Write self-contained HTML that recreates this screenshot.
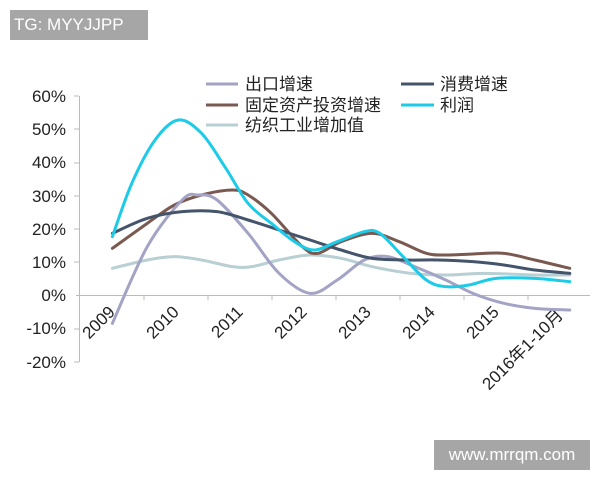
<!DOCTYPE html>
<html><head><meta charset="utf-8"><style>
body{margin:0;background:#fff;width:600px;height:480px;overflow:hidden;font-family:"Liberation Sans","Noto Sans CJK SC",sans-serif}
.wm{position:absolute;background:#a6a6a6;color:#fff;font-size:17px}
</style></head><body>
<svg id="s" width="600" height="480" style="position:absolute;left:0;top:0">
<g font-size="17" fill="#222" text-anchor="end" font-family="Liberation Sans,sans-serif">
<text x="66" y="102">60%</text><text x="66" y="135">50%</text><text x="66" y="168">40%</text>
<text x="66" y="202">30%</text><text x="66" y="235">20%</text><text x="66" y="268">10%</text>
<text x="66" y="301">0%</text><text x="66" y="334">-10%</text><text x="66" y="368">-20%</text>
</g>
<line x1="79.5" y1="96" x2="79.5" y2="362" stroke="#bbb"/>
<g stroke="#bbb"><line x1="74" y1="96" x2="79" y2="96"/><line x1="74" y1="129" x2="79" y2="129"/><line x1="74" y1="163" x2="79" y2="163"/><line x1="74" y1="196" x2="79" y2="196"/><line x1="74" y1="229" x2="79" y2="229"/><line x1="74" y1="262" x2="79" y2="262"/><line x1="74" y1="329" x2="79" y2="329"/><line x1="74" y1="362" x2="79" y2="362"/>
<line x1="76" y1="295.5" x2="590" y2="295.5"/>
<line x1="144" y1="295" x2="144" y2="300"/><line x1="208" y1="295" x2="208" y2="300"/><line x1="272" y1="295" x2="272" y2="300"/><line x1="336" y1="295" x2="336" y2="300"/><line x1="400" y1="295" x2="400" y2="300"/><line x1="464" y1="295" x2="464" y2="300"/><line x1="528" y1="295" x2="528" y2="300"/></g>
<g font-size="17" fill="#222" text-anchor="end" font-family="Liberation Sans,Noto Sans CJK SC,sans-serif">
<text transform="translate(116,313) rotate(-45)">2009</text>
<text transform="translate(180,313) rotate(-45)">2010</text>
<text transform="translate(244,313) rotate(-45)">2011</text>
<text transform="translate(308,313) rotate(-45)">2012</text>
<text transform="translate(372,313) rotate(-45)">2013</text>
<text transform="translate(436,313) rotate(-45)">2014</text>
<text transform="translate(500,313) rotate(-45)">2015</text>
<text transform="translate(564,316) rotate(-45)">2016年1-10月</text>
</g>
<g id="lines" fill="none" stroke-width="3" stroke-linecap="round"></g>
<g stroke-width="3">
<line x1="206" y1="84" x2="238" y2="84" stroke="#a3a3c6"/>
<line x1="401" y1="84" x2="434" y2="84" stroke="#44546a"/>
<line x1="206" y1="105" x2="238" y2="105" stroke="#7a5a50"/>
<line x1="401" y1="105" x2="434" y2="105" stroke="#1ccbe8"/>
<line x1="206" y1="125" x2="238" y2="125" stroke="#b8cfd3"/>
</g>
<g font-size="17" fill="#222" font-family="Noto Sans CJK SC,sans-serif">
<text x="245" y="90">出口增速</text><text x="440" y="90">消费增速</text>
<text x="245" y="111">固定资产投资增速</text><text x="440" y="111">利润</text>
<text x="245" y="131">纺织工业增加值</text>
</g>
</svg>
<div class="wm" style="left:10px;top:10px;width:138px;height:30px;line-height:30px;padding-left:4px;box-sizing:border-box">TG: MYYJJPP</div>
<div class="wm" style="left:434px;top:440px;width:156px;height:30px;line-height:30px;text-align:center">www.mrrqm.com</div>
<script>
var S=[
["#b8cfd3",[[290,625],[380,600],[450,590],[520,600],[600,620],[650,620],[720,600],[800,585],[880,595],[960,620],[1060,640],[1150,645],[1250,640],[1380,645],[1470,645]]],
["#7a5a50",[[290,565],[380,490],[450,435],[520,405],[600,390],[640,405],[700,460],[780,560],[820,580],[880,545],[960,520],[1030,545],[1100,580],[1150,585],[1220,582],[1300,580],[1380,600],[1470,625]]],
["#a3a3c6",[[290,790],[380,560],[470,420],[510,405],[560,420],[640,520],[720,640],[800,700],[870,660],[940,600],[1000,590],[1070,620],[1150,660],[1220,700],[1300,730],[1380,745],[1470,750]]],
["#44546a",[[290,520],[380,475],[470,455],[560,455],[640,480],[720,510],[800,540],[880,570],[960,595],[1050,600],[1130,600],[1220,605],[1300,615],[1380,630],[1470,640]]],
["#1ccbe8",[[290,530],[340,370],[400,240],[460,180],[520,220],[580,320],[640,430],[700,490],[760,545],[810,570],[870,545],[940,515],[980,520],[1040,590],[1100,660],[1150,680],[1210,675],[1280,655],[1380,655],[1470,665]]]
];
var g=document.getElementById('lines');
S.forEach(function(s){
 var p=s[1].map(function(q){return [q[0]/2.58,q[1]/3+60]});
 var d="M"+p[0][0]+","+p[0][1];
 for(var i=0;i<p.length-1;i++){
  var a=p[i-1]||p[i],b=p[i],c=p[i+1],e=p[i+2]||c;
  d+=" C"+(b[0]+(c[0]-a[0])/6)+","+(b[1]+(c[1]-a[1])/6)+" "+(c[0]-(e[0]-b[0])/6)+","+(c[1]-(e[1]-b[1])/6)+" "+c[0]+","+c[1];
 }
 var el=document.createElementNS("http://www.w3.org/2000/svg","path");
 el.setAttribute("d",d);el.setAttribute("stroke",s[0]);g.appendChild(el);
});
</script>
</body></html>
